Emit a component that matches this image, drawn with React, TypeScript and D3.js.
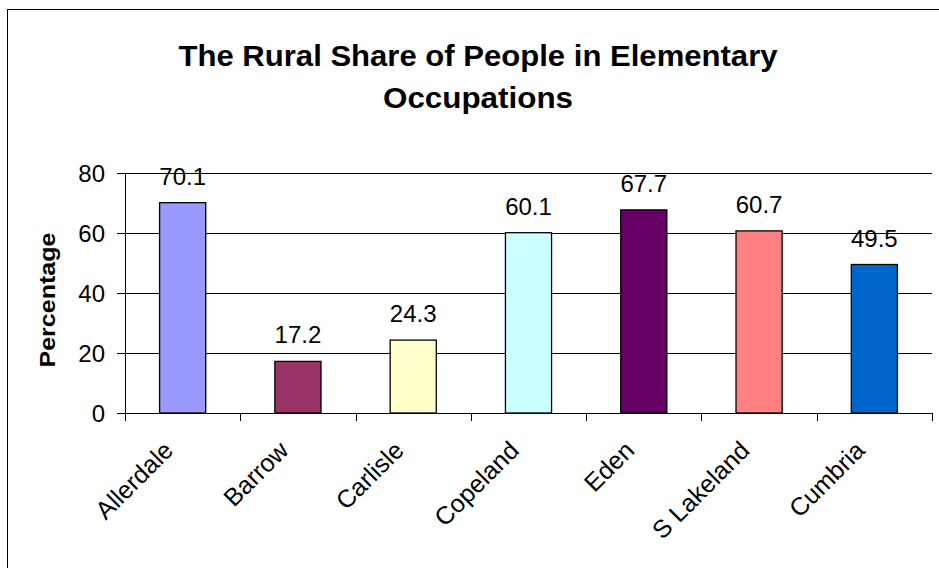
import React from "react";
import * as d3 from "d3";

const categories = ["Allerdale", "Barrow", "Carlisle", "Copeland", "Eden", "S Lakeland", "Cumbria"];
const values = [70.1, 17.2, 24.3, 60.1, 67.7, 60.7, 49.5];
const colors = ["#9999FF", "#993366", "#FFFFCC", "#CCFFFF", "#660066", "#FF8080", "#0066CC"];
const yTicks = [0, 20, 40, 60, 80];
const titleLines = ["The Rural Share of People in Elementary", "Occupations"];
const yLabel = "Percentage";

const W = 939;
const H = 568;
const plot = { left: 125, right: 932, top: 173, bottom: 413 };
const FONT = "'Liberation Sans', Arial, sans-serif";

export default function App() {
  const x = d3.scaleBand<string>().domain(categories).range([plot.left, plot.right]).paddingInner(0.6).paddingOuter(0.3);
  const xb = d3.scaleBand<string>().domain(categories).range([plot.left, plot.right]);
  const y = d3.scaleLinear().domain([0, 80]).range([plot.bottom, plot.top]);
  const titleLens = [599, 190];

  return (
    <svg width={W} height={H} style={{ position: "absolute", left: 0, top: 0, background: "#fff" }} fontFamily={FONT}>
      <rect x={7.5} y={9.5} width={W + 10} height={H + 10} fill="#fff" stroke="#000" strokeWidth={1} />
      {titleLines.map((t, i) => (
        <text
          key={i}
          x={478}
          y={66 + i * 42}
          textAnchor="middle"
          fontWeight="bold"
          fontSize={29}
          textLength={titleLens[i]}
          lengthAdjust="spacingAndGlyphs"
          fill="#000"
        >
          {t}
        </text>
      ))}
      {yTicks.map((t) => (
        <g key={t}>
          <line x1={plot.left - 8} x2={plot.right} y1={Math.round(y(t)) + 0.5} y2={Math.round(y(t)) + 0.5} stroke="#000" strokeWidth={1} />
          <text x={plot.left - 20} y={y(t) + 9} textAnchor="end" fontSize={24} fill="#000">
            {t}
          </text>
        </g>
      ))}
      <line x1={plot.left + 0.5} x2={plot.left + 0.5} y1={plot.top} y2={plot.bottom + 8} stroke="#000" />
      {categories.map((c) => (
        <line key={c} x1={Math.round(xb(c)! + xb.bandwidth()) + 0.5} x2={Math.round(xb(c)! + xb.bandwidth()) + 0.5} y1={plot.bottom} y2={plot.bottom + 8} stroke="#000" />
      ))}
      {categories.map((c, i) => (
        <g key={c}>
          <rect x={x(c)} y={y(values[i])} width={x.bandwidth()} height={y(0) - y(values[i])} fill={colors[i]} stroke="#000" strokeWidth={1.3} />
          <text x={x(c)! + x.bandwidth() / 2} y={y(values[i]) - 18} textAnchor="middle" fontSize={24} fill="#000">
            {values[i]}
          </text>
          <text
            transform={`translate(${xb(c)! + xb.bandwidth() / 2 - 8},${plot.bottom + 39}) rotate(-45)`}
            textAnchor="end"
            fontSize={25}
            fill="#000"
          >
            {c}
          </text>
        </g>
      ))}
      <text
        transform={`translate(55,${(plot.top + plot.bottom) / 2 + 7}) rotate(-90)`}
        textAnchor="middle"
        fontWeight="bold"
        fontSize={22}
        textLength={135}
        lengthAdjust="spacingAndGlyphs"
        fill="#000"
      >
        {yLabel}
      </text>
    </svg>
  );
}
